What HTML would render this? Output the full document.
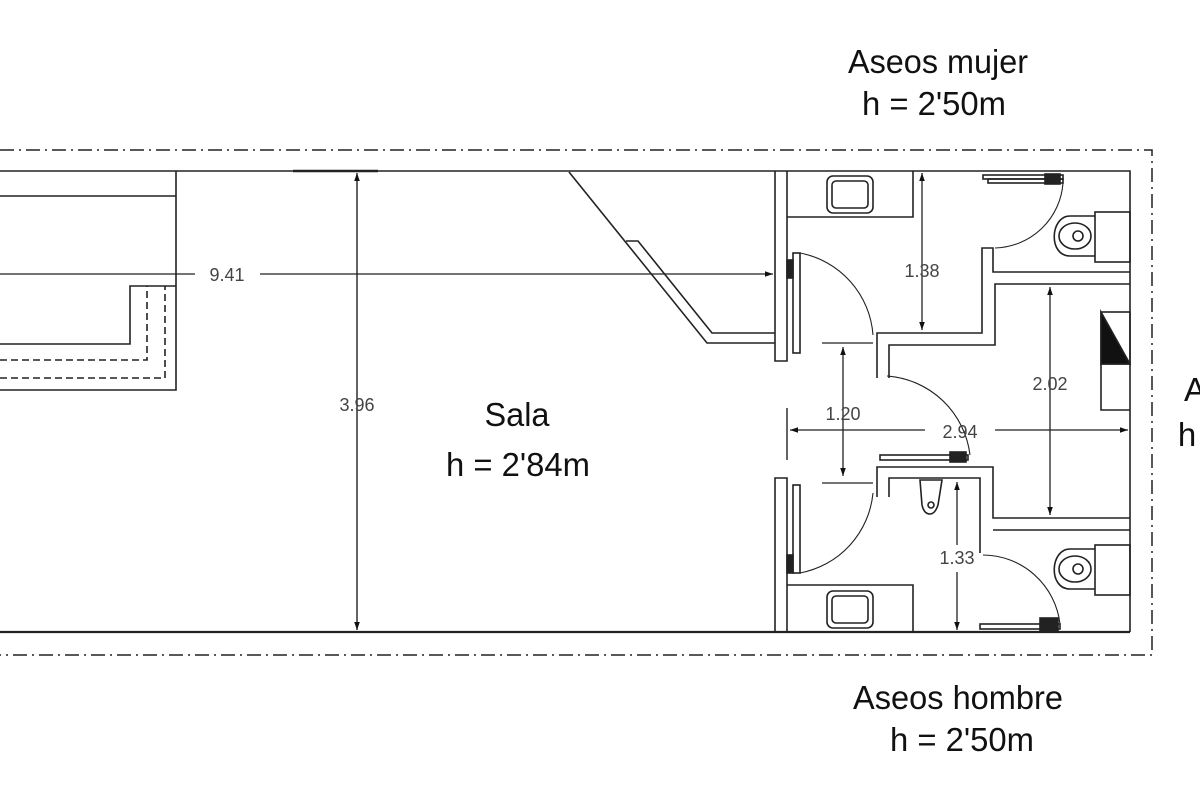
<!DOCTYPE html>
<html><head><style>html,body{margin:0;padding:0;background:#fff;width:1200px;height:800px;overflow:hidden}</style></head>
<body>
<svg width="1200" height="800" viewBox="0 0 1200 800" xmlns="http://www.w3.org/2000/svg" font-family="Liberation Sans, sans-serif">
<defs>
<marker id="a" viewBox="0 0 10 10" refX="10" refY="5" markerWidth="10" markerHeight="8" orient="auto-start-reverse" markerUnits="userSpaceOnUse"><path d="M0,1.5 L10,5 L0,8.5z" fill="#111"/></marker>
</defs>
<g fill="none" stroke="#222" stroke-width="1.6">
<path d="M0,150 H1152 V655 H0" stroke-dasharray="14,5,2,5" stroke-width="1.5"/>
<path d="M0,171 H1130 V632"/>
<path d="M0,632 H1130" stroke-width="2.2"/>
<path d="M176,171 V390 H0"/>
<path d="M0,196 H176"/>
<path d="M0,344 H130 V286 H176"/>
<path d="M0,360 H147 V286" stroke-dasharray="7,4"/>
<path d="M0,378 H165 V286" stroke-dasharray="7,4"/>
<path d="M0,274 H195 M260,274 H773" stroke-width="1.2" marker-end="url(#a)"/>
<path d="M293,171 H378" stroke-width="2.4"/>
<path d="M357,173 V630" stroke-width="1.4" marker-start="url(#a)" marker-end="url(#a)"/>
<path d="M569,172 L707,343 H775"/>
<path d="M626,241 H638 L712,333 H775"/>
<path d="M775,171 V361 H787 V171"/>
<path d="M775,632 V478 H787 V632"/>
<path d="M787,217 H913 V171"/>
<rect x="827" y="176" width="46" height="37" rx="6"/>
<rect x="832" y="181" width="36" height="27" rx="4"/>
<path d="M922,173 V330" stroke-width="1.3" marker-start="url(#a)" marker-end="url(#a)"/>
<path d="M877,378 V333 H982 V248 H993 V272 H1130"/>
<path d="M889,378 V345 H995 V284 H1130"/>
<rect x="983" y="175" width="80" height="4"/>
<rect x="988" y="179" width="75" height="4"/>
<path d="M1063,183 A70,70 0 0 1 995,248" stroke-width="1.1"/>
<rect x="1045" y="174" width="15" height="10" fill="#222"/>
<rect x="1095" y="212" width="35" height="50"/>
<path d="M1095,216 H1070 C1050,216 1048,256 1070,256 H1095"/>
<ellipse cx="1075" cy="236" rx="16" ry="13"/>
<circle cx="1078" cy="236" r="5"/>
<rect x="793" y="253" width="7" height="100"/>
<rect x="787" y="260" width="6" height="18" fill="#222"/>
<path d="M800,253 A90,90 0 0 1 873,335" stroke-width="1.1"/>
<path d="M822,343 H873" stroke-width="1.2"/>
<path d="M843,347 V476" stroke-width="1.3" marker-start="url(#a)" marker-end="url(#a)"/>
<path d="M1050,287 V515" stroke-width="1.3" marker-start="url(#a)" marker-end="url(#a)"/>
<rect x="1101" y="312" width="29" height="52"/>
<path d="M1101,312 L1130,364 H1101z" fill="#111"/>
<path d="M1101,364 V410 H1130"/>
<path d="M787,408 V460" stroke-width="1.4"/>
<path d="M790,430 H925" stroke-width="1.2" marker-start="url(#a)"/>
<path d="M995,430 H1128" stroke-width="1.2" marker-end="url(#a)"/>
<path d="M877,497 V467 H993 V518 H1130"/>
<path d="M889,497 V478 H980 V553"/>
<path d="M993,530 H1130"/>
<path d="M887,376 A90,90 0 0 1 970,455" stroke-width="1.1"/>
<rect x="880" y="455" width="88" height="5"/>
<rect x="950" y="452" width="16" height="10" fill="#222"/>
<path d="M920,480 L942,480 L938,505 Q935,514 930,514 Q924,514 922,505z"/>
<circle cx="931" cy="505" r="3"/>
<path d="M957,482 V545 M957,572 V630" stroke-width="1.3" marker-start="url(#a)" marker-end="url(#a)"/>
<rect x="793" y="485" width="7" height="88"/>
<rect x="787" y="555" width="6" height="18" fill="#222"/>
<path d="M800,573 A90,90 0 0 0 873,493" stroke-width="1.1"/>
<path d="M822,483 H873" stroke-width="1.2"/>
<path d="M787,585 H913 V632"/>
<rect x="827" y="591" width="46" height="37" rx="6"/>
<rect x="832" y="596" width="36" height="27" rx="4"/>
<rect x="980" y="624" width="80" height="5"/>
<rect x="1040" y="618" width="18" height="14" fill="#222"/>
<path d="M983,555 A78,78 0 0 1 1060,624" stroke-width="1.1"/>
<rect x="1095" y="545" width="35" height="50"/>
<path d="M1095,549 H1070 C1050,549 1048,589 1070,589 H1095"/>
<ellipse cx="1075" cy="569" rx="16" ry="13"/>
<circle cx="1078" cy="569" r="5"/>
</g>
<g fill="#444" font-size="18" text-anchor="middle">
<text x="227" y="281">9.41</text>
<text x="357" y="411">3.96</text>
<text x="922" y="277">1.38</text>
<text x="843" y="420">1.20</text>
<text x="960" y="438">2.94</text>
<text x="1050" y="390">2.02</text>
<text x="957" y="564">1.33</text>
</g>
<g fill="#111" font-size="33" text-anchor="middle">
<text x="938" y="73" textLength="180" lengthAdjust="spacingAndGlyphs">Aseos mujer</text>
<text x="934" y="115" textLength="144" lengthAdjust="spacingAndGlyphs">h = 2'50m</text>
<text x="517" y="426" textLength="65" lengthAdjust="spacingAndGlyphs">Sala</text>
<text x="518" y="476" textLength="144" lengthAdjust="spacingAndGlyphs">h = 2'84m</text>
<text x="958" y="709" textLength="210" lengthAdjust="spacingAndGlyphs">Aseos hombre</text>
<text x="962" y="751" textLength="144" lengthAdjust="spacingAndGlyphs">h = 2'50m</text>
<text x="1195" y="401">A</text>
<text x="1187" y="446">h</text>
</g>
</svg>
</body></html>
